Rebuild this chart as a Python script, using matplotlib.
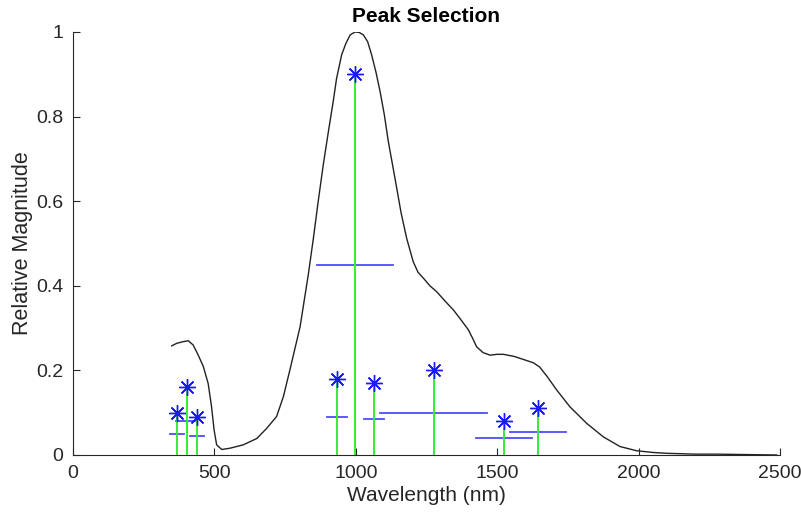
import matplotlib
matplotlib.use("Agg")
import matplotlib.pyplot as plt

plt.rcParams['font.family'] = ['Liberation Sans', 'DejaVu Sans']

# Measured spectrum (wavelength in nm, relative magnitude)
wavelength = [349, 367, 390, 408, 425, 443, 461, 478, 490, 499, 508, 526, 555,
              602, 650, 685, 720, 744, 767, 803, 832, 850, 867, 885, 903, 920,
              932, 950, 965, 980, 997, 1012, 1027, 1042, 1056, 1071, 1086, 1101,
              1115, 1130, 1145, 1160, 1180, 1203, 1220, 1239, 1262, 1286, 1321,
              1345, 1368, 1398, 1416, 1427, 1450, 1475, 1500, 1522, 1560, 1592,
              1628, 1650, 1675, 1710, 1757, 1816, 1875, 1934, 1993, 2050, 2099,
              2200, 2276, 2488]
magnitude = [0.258, 0.264, 0.268, 0.270, 0.260, 0.236, 0.209, 0.169, 0.114,
             0.059, 0.024, 0.013, 0.016, 0.024, 0.039, 0.063, 0.091, 0.138,
             0.201, 0.303, 0.426, 0.512, 0.599, 0.686, 0.764, 0.835, 0.890,
             0.946, 0.973, 0.993, 1.000, 0.999, 0.993, 0.977, 0.946, 0.906,
             0.859, 0.804, 0.741, 0.686, 0.630, 0.573, 0.512, 0.457, 0.432,
             0.418, 0.400, 0.386, 0.360, 0.343, 0.323, 0.296, 0.272, 0.256,
             0.242, 0.236, 0.238, 0.238, 0.233, 0.226, 0.218, 0.208, 0.187,
             0.154, 0.114, 0.075, 0.043, 0.020, 0.010, 0.006, 0.004, 0.002,
             0.002, 0.000]

# Selected peaks: centre wavelength, height and full width at half height
peak_pos = [368, 403, 438, 997, 933, 1064, 1275, 1524, 1644]
peak_height = [0.10, 0.16, 0.09, 0.90, 0.18, 0.17, 0.20, 0.08, 0.11]
peak_width = [47, 74, 49, 268, 71, 71, 378, 198, 198]

fig = plt.figure(figsize=(8.01, 5.21), dpi=100)
ax = fig.add_axes([0.0911, 0.1267, 0.8827, 0.8119])

ax.plot(wavelength, magnitude, color='#222222', lw=1.0, zorder=2)

for x, h, w in zip(peak_pos, peak_height, peak_width):
    ax.plot([x - w / 2, x + w / 2], [h / 2, h / 2], color='#4d4dff', lw=1.3, zorder=3)
    ax.plot([x, x], [0, h], color='#33ee33', lw=1.4, zorder=4)

ax.plot(peak_pos, peak_height, linestyle='none', marker=(8, 2, 0), markersize=12,
        markeredgecolor='#1a1aff', markeredgewidth=1.0, zorder=5)

ax.set_xlim(0, 2500)
ax.set_ylim(0, 1)
ax.set_xticks([0, 500, 1000, 1500, 2000, 2500])
ax.set_yticks([0, 0.2, 0.4, 0.6, 0.8, 1])
ax.set_yticklabels(['0', '0.2', '0.4', '0.6', '0.8', '1'])
ax.spines['top'].set_visible(False)
ax.spines['right'].set_visible(False)
for s in ('left', 'bottom'):
    ax.spines[s].set_color('#262626')
    ax.spines[s].set_linewidth(0.8)
ax.tick_params(direction='in', length=5, width=0.8, colors='#262626',
               labelsize=14, pad=7)

ax.set_xlabel('Wavelength (nm)', fontsize=15, color='#262626', labelpad=3)
ax.set_ylabel('Relative Magnitude', fontsize=15.5, color='#262626', labelpad=2)
ax.set_title('Peak Selection', fontsize=15, fontweight='bold', color='black', pad=7)

fig.savefig('out.png', dpi=100)
